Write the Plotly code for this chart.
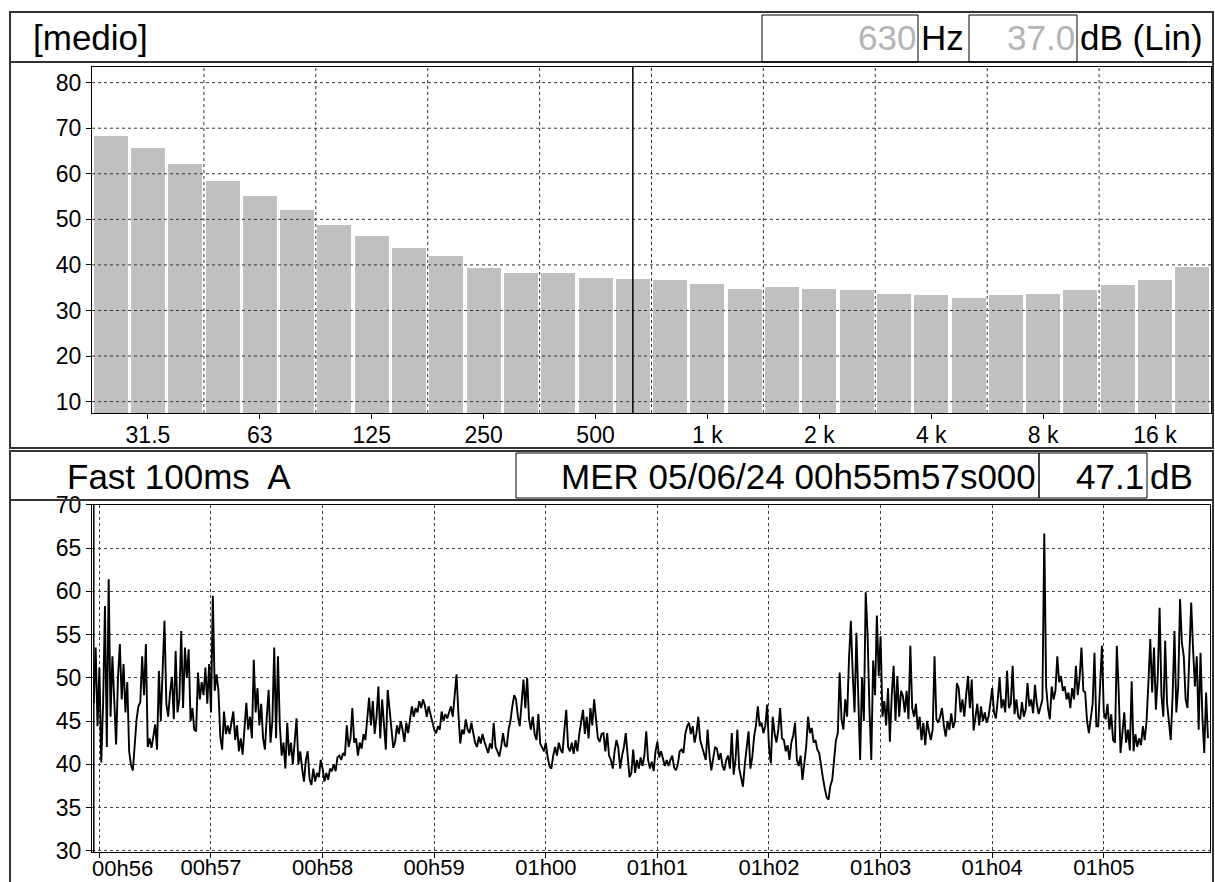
import plotly.graph_objects as go

W, H = 1215, 882
FONT = "Liberation Sans, Arial, sans-serif"

# 1/3-octave spectrum (dB, linear weighting)
band_labels = ["25", "31.5", "40", "50", "63", "80", "100", "125", "160", "200",
               "250", "315", "400", "500", "630", "800", "1 k", "1.25 k", "1.6 k", "2 k",
               "2.5 k", "3.15 k", "4 k", "5 k", "6.3 k", "8 k", "10 k", "12.5 k", "16 k", "20 k"]
band_levels = [68.3, 65.7, 62.2, 58.5, 55.2, 52.1, 48.8, 46.4, 43.8, 42.0,
               39.3, 38.2, 38.2, 37.1, 37.0, 36.7, 35.8, 34.8, 35.2, 34.8,
               34.5, 33.7, 33.4, 32.9, 33.4, 33.7, 34.5, 35.6, 36.7, 39.7]
octave_tick_idx = [1, 4, 7, 10, 13, 16, 19, 22, 25, 28]
octave_tick_labels = ["31.5", "63", "125", "250", "500", "1 k", "2 k", "4 k", "8 k", "16 k"]
spectrum_yticks = [10, 20, 30, 40, 50, 60, 70, 80]
cursor_band = 14

# Fast 100 ms, A-weighted level, one value per second from 00h55m57s
level_db = [
    47.1, 53.5, 44.4, 51.2, 40.2, 47.0, 58.3, 42.0, 61.4, 45.5,
    52.5, 47.0, 42.3, 50.0, 53.9, 47.5, 51.6, 46.0, 49.5, 41.5,
    39.9, 39.3, 42.8, 45.2, 46.7, 47.2, 52.5, 48.0, 53.9, 42.0,
    43.0, 41.9, 43.2, 44.6, 41.7, 50.8, 45.0, 50.6, 56.6, 47.0,
    45.5, 48.3, 50.1, 45.2, 53.1, 46.0, 47.5, 55.4, 46.5, 53.5,
    50.0, 53.3, 45.0, 46.5, 44.0, 43.8, 50.6, 47.5, 49.5, 48.0,
    51.2, 47.0, 51.6, 46.0, 59.5, 48.5, 50.4, 48.5, 43.2, 41.7,
    46.1, 43.5, 44.5, 43.5, 45.0, 46.1, 42.8, 44.5, 41.5, 43.0,
    41.1, 44.5, 47.1, 44.0, 45.5, 43.0, 52.1, 46.0, 48.8, 44.5,
    47.0, 43.0, 41.7, 45.5, 48.6, 42.5, 45.0, 53.5, 43.0, 52.5,
    44.5, 41.0, 42.5, 39.5, 44.8, 41.0, 42.5, 40.0, 42.8, 45.3,
    40.0, 41.5, 39.5, 38.0, 40.5, 41.5, 38.3, 37.6, 39.5, 38.0,
    39.0, 38.5, 40.5, 39.5, 38.0, 39.0, 38.2, 39.5, 39.2, 40.0,
    39.2, 40.8, 41.0, 40.5, 41.3, 41.0, 44.5, 42.0, 43.0, 46.5,
    42.5, 43.0, 41.0, 42.5, 41.8, 43.5, 42.8, 45.0, 47.7, 44.5,
    47.3, 43.5, 45.5, 49.0, 43.0, 47.5, 45.0, 41.7, 48.6, 46.5,
    44.0, 41.9, 42.6, 44.5, 43.5, 45.0, 44.0, 42.6, 44.8, 43.6,
    45.2, 46.7, 45.5, 46.5, 46.0, 47.3, 46.5, 47.5, 46.8, 45.5,
    46.7, 45.7, 45.0, 44.0, 43.6, 44.4, 44.0, 46.1, 45.0, 45.8,
    45.3, 46.0, 46.7, 45.5, 47.9, 50.4, 45.9, 42.4, 44.0, 43.5,
    45.2, 44.0, 43.6, 44.8, 43.6, 42.5, 42.0, 43.2, 42.4, 43.5,
    42.6, 42.0, 41.3, 42.4, 41.8, 44.8, 42.0, 41.5, 40.9, 42.0,
    43.6, 42.2, 42.0, 44.0, 45.0, 46.7, 48.0, 47.5, 45.5, 44.4,
    47.5, 49.8, 46.5, 50.0, 45.2, 44.0, 45.5, 43.5, 42.8, 45.8,
    42.4, 42.0, 41.5, 42.5, 40.8, 39.8, 39.5, 41.0, 42.0, 41.0,
    42.5, 41.7, 41.3, 44.0, 46.3, 42.0, 41.5, 42.5, 41.2, 42.8,
    41.5, 43.5, 44.8, 46.3, 43.5, 45.5, 43.0, 46.5, 44.5, 47.5,
    45.2, 43.0, 42.6, 43.5, 43.6, 41.5, 43.6, 41.0, 40.5, 39.5,
    41.5, 42.8, 41.9, 39.5, 41.0, 42.0, 43.6, 41.0, 38.5, 39.0,
    41.7, 39.0, 40.5, 39.5, 40.8, 39.8, 41.0, 43.8, 40.5, 39.5,
    40.3, 39.2, 41.5, 42.6, 40.8, 41.5, 40.5, 39.8, 40.5, 39.8,
    40.5, 41.0, 39.6, 39.3, 40.0, 41.5, 41.7, 41.3, 43.5, 44.4,
    44.8, 43.5, 44.4, 42.5, 43.6, 45.5, 42.8, 42.0, 41.0, 40.5,
    44.0, 41.0, 39.3, 40.5, 42.0, 41.8, 40.5, 41.3, 39.8, 39.3,
    40.5, 41.0, 39.5, 43.6, 38.8, 40.5, 44.0, 39.5, 38.5, 37.4,
    40.0, 42.0, 43.8, 39.5, 40.8, 43.2, 44.5, 46.7, 44.4, 44.8,
    43.6, 44.4, 46.9, 42.0, 40.1, 45.5, 43.6, 42.5, 44.0, 46.5,
    43.0, 42.8, 41.5, 42.2, 40.5, 42.5, 43.3, 44.8, 40.5, 39.8,
    41.0, 38.2, 40.5, 42.0, 45.5, 43.6, 44.2, 42.5, 42.8, 41.7,
    41.3, 39.7, 38.4, 37.2, 36.2, 35.9, 37.5, 38.2, 40.5, 42.8,
    43.6, 50.6, 45.2, 44.0, 47.5, 45.5, 52.1, 56.6, 50.5, 46.0,
    55.2, 46.3, 40.5, 50.0, 45.0, 59.9, 55.0, 46.5, 40.5, 52.0,
    48.0, 57.2, 50.2, 54.8, 45.5, 47.3, 44.5, 48.8, 42.6, 48.0,
    51.4, 45.0, 50.2, 45.5, 48.5, 47.9, 46.0, 48.5, 45.2, 53.7,
    46.5, 45.5, 47.0, 44.0, 45.5, 42.8, 44.8, 42.2, 45.0, 43.8,
    42.8, 44.0, 52.5, 45.2, 44.8, 45.5, 46.5, 44.5, 43.2, 45.0,
    44.0, 45.9, 44.2, 45.0, 49.4, 48.8, 46.0, 47.5, 45.5, 48.0,
    50.2, 46.5, 49.8, 43.9, 45.5, 47.0, 44.5, 46.7, 45.0, 46.0,
    44.8, 45.5, 47.0, 48.8, 46.0, 45.3, 47.5, 50.0, 46.5, 47.5,
    46.0, 50.8, 46.5, 47.0, 51.4, 45.8, 47.5, 45.5, 45.2, 47.2,
    45.5, 46.3, 49.4, 46.7, 47.5, 45.9, 49.2, 47.0, 45.8, 46.7,
    47.5, 66.7, 49.0, 46.5, 45.2, 49.0, 47.5, 48.5, 52.5, 49.5,
    50.2, 48.5, 49.0, 47.5, 48.3, 46.5, 48.8, 47.5, 51.4, 48.0,
    50.0, 53.5, 48.5, 48.3, 45.0, 43.6, 45.5, 47.0, 52.9, 44.4,
    44.4, 48.5, 53.7, 46.0, 45.2, 47.0, 44.0, 45.8, 42.8, 42.5,
    53.7, 48.5, 41.3, 43.6, 46.0, 42.5, 44.0, 41.6, 49.6, 41.5,
    43.5, 42.0, 43.0, 42.2, 44.4, 42.8, 45.0, 49.5, 54.5, 48.3,
    53.5, 46.3, 50.0, 58.1, 48.0, 45.5, 54.3, 47.1, 44.5, 42.8,
    48.0, 55.4, 46.0, 49.0, 59.1, 54.0, 52.5, 47.5, 46.5, 52.1,
    58.7, 53.3, 49.0, 52.5, 44.0, 52.9, 45.5, 41.3, 48.3, 43.0,
]
time_s = list(range(len(level_db)))
minute_ticks = [3, 63, 123, 183, 243, 303, 363, 423, 483, 543]
minute_labels = ["00h56", "00h57", "00h58", "00h59", "01h00",
                 "01h01", "01h02", "01h03", "01h04", "01h05"]
level_yticks = [30, 35, 40, 45, 50, 55, 60, 65, 70]
cursor_time = 0


def px(x):
    return x / W


def py(y):
    return 1 - y / H


fig = go.Figure()

fig.add_trace(go.Bar(
    x=list(range(len(band_levels))), y=band_levels, width=0.91,
    marker=dict(color="#c0c0c0", line=dict(width=0)),
    xaxis="x", yaxis="y", hoverinfo="y",
))

fig.add_trace(go.Scatter(
    x=time_s, y=level_db, mode="lines",
    line=dict(color="black", width=1.9),
    xaxis="x2", yaxis="y2", hoverinfo="y",
))

tickfont = dict(family=FONT, size=23, color="black")
timefont = dict(family=FONT, size=22, color="black")
axis_common = dict(showline=True, linecolor="black", linewidth=1, mirror=True,
                   ticks="outside", tickcolor="black",
                   zeroline=False, fixedrange=True, automargin=False, ticklen=5)

fig.update_layout(
    width=W, height=H,
    margin=dict(l=0, r=0, t=0, b=0, pad=0, autoexpand=False),
    paper_bgcolor="white", plot_bgcolor="white",
    showlegend=False,
    font=dict(family=FONT, color="black"),
    xaxis=dict(domain=[px(92), px(1211)], range=[-0.5, len(band_levels) - 0.5],
               tickvals=octave_tick_idx, ticktext=octave_tick_labels, tickfont=tickfont,
               showgrid=False, anchor="y", ticklabelstandoff=-4, **axis_common),
    yaxis=dict(domain=[py(413), py(66.7)], range=[7.5, 83.5], tickfont=tickfont,
               tickvals=spectrum_yticks, showgrid=False, anchor="x", **axis_common),
    xaxis2=dict(domain=[px(92), px(1210)], range=[-0.97, 600.1],
                tickvals=minute_ticks, ticktext=[""] + minute_labels[1:], tickfont=timefont,
                showgrid=True, gridcolor="#444", griddash="dot", gridwidth=1,
                anchor="y2", ticklabelstandoff=-9, **axis_common),
    yaxis2=dict(domain=[py(852), py(504.5)], range=[29.85, 70.05], tickfont=tickfont,
                tickvals=level_yticks, showgrid=True, gridcolor="#444", griddash="dot",
                gridwidth=1, anchor="x2", **axis_common),
    bargap=0,
)

shapes = []
# spectrum grid drawn over the bars
for v in spectrum_yticks:
    shapes.append(dict(type="line", xref="x domain", yref="y", x0=0, x1=1, y0=v, y1=v,
                       line=dict(color="#333", width=1, dash="dot"), layer="above"))
for b in range(3, len(band_levels), 3):
    shapes.append(dict(type="line", xref="x", yref="y domain", x0=b - 0.5, x1=b - 0.5, y0=0, y1=1,
                       line=dict(color="#333", width=1, dash="dot"), layer="above"))
# cursors
shapes.append(dict(type="line", xref="x", yref="y domain", x0=cursor_band, x1=cursor_band,
                   y0=0, y1=1, line=dict(color="black", width=1.5), layer="above"))
shapes.append(dict(type="line", xref="x2", yref="y2 domain", x0=cursor_time, x1=cursor_time,
                   y0=0, y1=1, line=dict(color="black", width=1.5), layer="above"))


def rect(x0, y0, x1, y1, color="black", width=1):
    shapes.append(dict(type="rect", xref="paper", yref="paper",
                       x0=px(x0), x1=px(x1), y0=py(y1), y1=py(y0),
                       line=dict(color=color, width=width), fillcolor="rgba(0,0,0,0)",
                       layer="above"))


def hline(x0, x1, y, color="black", width=1):
    shapes.append(dict(type="line", xref="paper", yref="paper",
                       x0=px(x0), x1=px(x1), y0=py(y), y1=py(y),
                       line=dict(color=color, width=width), layer="above"))


# panel frames
rect(10, 12, 1213, 448, color="#333", width=2)
hline(10, 1213, 62, color="#333", width=2)
rect(10, 451, 1213, 890, color="#333", width=2)
hline(10, 1213, 500, color="#333", width=2)
# value boxes
rect(762, 15, 918, 62)
rect(969, 15, 1077, 62)
rect(516, 453, 1039, 498)
rect(1039, 453, 1147, 498)

fig.update_layout(shapes=shapes)

hdr = 35
ann = []


def text(x, y, s, anchor="left", color="black", size=hdr):
    ann.append(dict(xref="paper", yref="paper", x=px(x), y=py(y), text=s,
                    showarrow=False, xanchor=anchor, yanchor="middle",
                    font=dict(family=FONT, size=size, color=color)))


text(31, 38, "[medio]")
text(918, 38, band_labels[cursor_band], anchor="right", color="#b4b4b4")
text(919, 38, "Hz")
text(1077, 38, f"{band_levels[cursor_band]:.1f}", anchor="right", color="#b4b4b4")
text(1078, 38, "dB (Lin)")

text(65, 476, "Fast 100ms\u00a0 A")
text(1038, 476, "MER 05/06/24 00h55m57s000", anchor="right")
text(1146, 476, f"{level_db[cursor_time]:.1f}", anchor="right")
text(1148, 476, "dB")

# first minute label kept inside the plot's left edge
ann.append(dict(xref="paper", yref="paper", x=px(90), y=py(852), text=minute_labels[0],
                showarrow=False, xanchor="left", yanchor="top", yshift=-2,
                font=timefont))

fig.update_layout(annotations=ann)

fig.write_html("out.html")
